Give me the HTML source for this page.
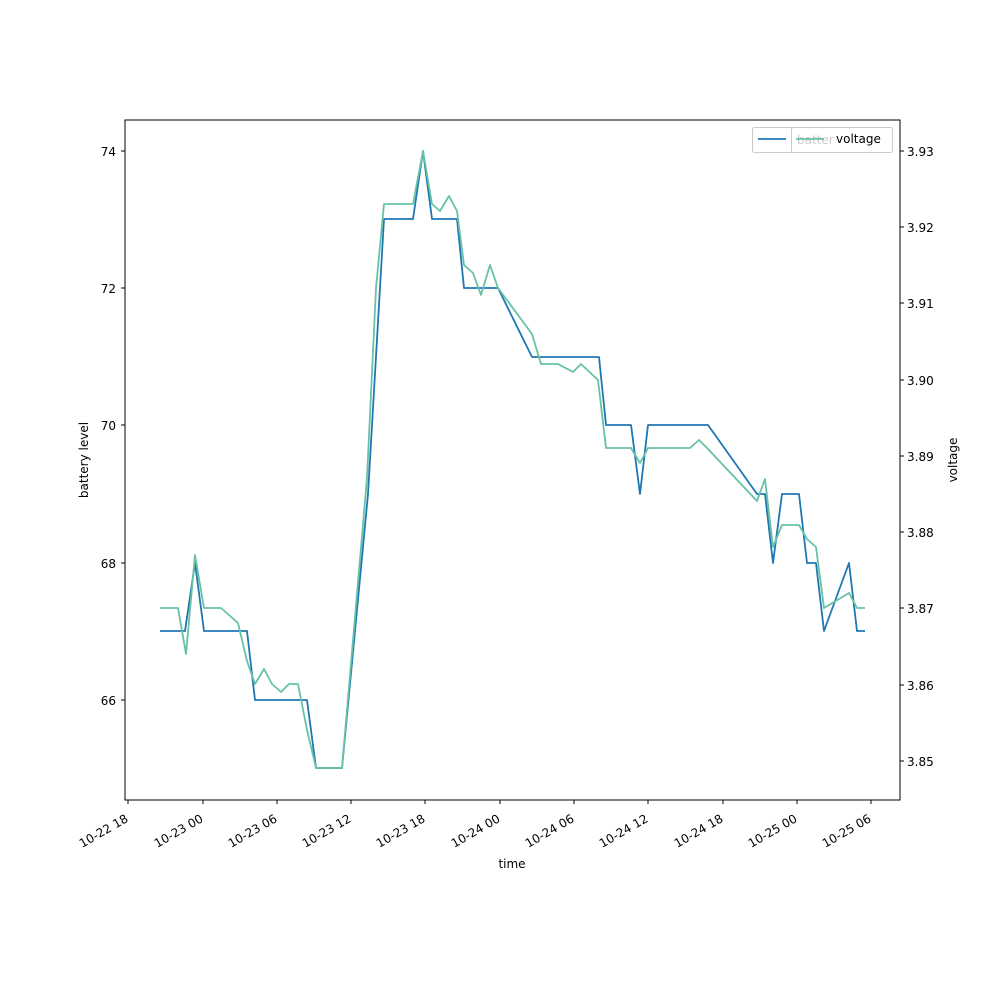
<!DOCTYPE html>
<html><head><style>body{margin:0;background:#fff}</style></head><body>
<svg width="1000" height="1000" xmlns="http://www.w3.org/2000/svg" font-family="DejaVu Sans, Liberation Sans, sans-serif" font-size="12">
<rect width="1000" height="1000" fill="#fff"/>
<g fill="none" stroke-width="1.8" stroke-linejoin="round">
<polyline stroke="#1f77b4" points="160,631 185,631 195,563 204,631 247,631 255,700 307,700 316,768 342,768 368,494 384,219 413,219 423,151 432,219 457,219 464,288 498,288 532,357 599,357 606,425 631,425 640,494 648,425 708,425 757,494 765,494 773,563 782,494 799,494 807,563 816,563 824,631 849,563 857,631 865,631"/>
<polyline stroke="#66c2a5" points="160,608 178,608 186,654 195,555 204,608 221,608 238,623 247,661 255,684 264,669 272,684 281,692 289,684 298,684 307,730 316,768 342,768 367,478 376,288 384,204 413,204 423,151 432,204 440,211 449,196 457,211 464,265 473,273 481,295 490,265 498,288 532,334 541,364 558,364 573,372 581,364 598,380 606,448 631,448 640,463 648,448 690,448 699,440 707,448 757,501 765,479 773,547 782,525 799,525 807,539 816,547 824,608 849,593 857,608 865,608"/>
</g>
<rect x="125" y="120" width="775" height="680" fill="none" stroke="#000" stroke-width="1"/>
<g stroke="#000">
<line x1="125" y1="151" x2="121" y2="151"/><line x1="125" y1="288" x2="121" y2="288"/><line x1="125" y1="425" x2="121" y2="425"/><line x1="125" y1="563" x2="121" y2="563"/><line x1="125" y1="700" x2="121" y2="700"/>
<line x1="900" y1="151" x2="904" y2="151"/><line x1="900" y1="227" x2="904" y2="227"/><line x1="900" y1="303" x2="904" y2="303"/><line x1="900" y1="380" x2="904" y2="380"/><line x1="900" y1="456" x2="904" y2="456"/><line x1="900" y1="532" x2="904" y2="532"/><line x1="900" y1="608" x2="904" y2="608"/><line x1="900" y1="685" x2="904" y2="685"/><line x1="900" y1="761" x2="904" y2="761"/>
<line x1="128" y1="800" x2="128" y2="804"/><line x1="203" y1="800" x2="203" y2="804"/><line x1="277" y1="800" x2="277" y2="804"/><line x1="351" y1="800" x2="351" y2="804"/><line x1="425" y1="800" x2="425" y2="804"/><line x1="500" y1="800" x2="500" y2="804"/><line x1="574" y1="800" x2="574" y2="804"/><line x1="648" y1="800" x2="648" y2="804"/><line x1="723" y1="800" x2="723" y2="804"/><line x1="797" y1="800" x2="797" y2="804"/><line x1="871" y1="800" x2="871" y2="804"/>
</g>
<g text-anchor="end">
<text x="116" y="156">74</text><text x="116" y="293">72</text><text x="116" y="430">70</text><text x="116" y="568">68</text><text x="116" y="705">66</text>
</g>
<g>
<text x="907" y="156">3.93</text><text x="907" y="232">3.92</text><text x="907" y="308">3.91</text><text x="907" y="385">3.90</text><text x="907" y="461">3.89</text><text x="907" y="537">3.88</text><text x="907" y="613">3.87</text><text x="907" y="690">3.86</text><text x="907" y="766">3.85</text>
</g>
<g text-anchor="end">
<text transform="translate(129,821) rotate(-30)">10-22 18</text>
<text transform="translate(204,821) rotate(-30)">10-23 00</text>
<text transform="translate(278,821) rotate(-30)">10-23 06</text>
<text transform="translate(352,821) rotate(-30)">10-23 12</text>
<text transform="translate(426,821) rotate(-30)">10-23 18</text>
<text transform="translate(501,821) rotate(-30)">10-24 00</text>
<text transform="translate(575,821) rotate(-30)">10-24 06</text>
<text transform="translate(649,821) rotate(-30)">10-24 12</text>
<text transform="translate(724,821) rotate(-30)">10-24 18</text>
<text transform="translate(798,821) rotate(-30)">10-25 00</text>
<text transform="translate(872,821) rotate(-30)">10-25 06</text>
</g>
<text x="512" y="868" text-anchor="middle">time</text>
<text transform="translate(88,460) rotate(-90)" text-anchor="middle">battery level</text>
<text transform="translate(957,460) rotate(-90)" text-anchor="middle">voltage</text>
<rect x="752.5" y="127.5" width="140" height="25" rx="2" fill="#fff" stroke="#ccc"/>
<line x1="758" y1="139" x2="786" y2="139" stroke="#1f77b4" stroke-width="1.8"/>
<rect x="791.5" y="127.5" width="101" height="25" rx="2" fill="#fff" stroke="#ccc"/>
<text x="797" y="144" fill="#ccc">batter</text>
<line x1="796" y1="139" x2="824" y2="139" stroke="#66c2a5" stroke-width="1.8"/>
<text x="836" y="143">voltage</text>
</svg>
</body></html>
